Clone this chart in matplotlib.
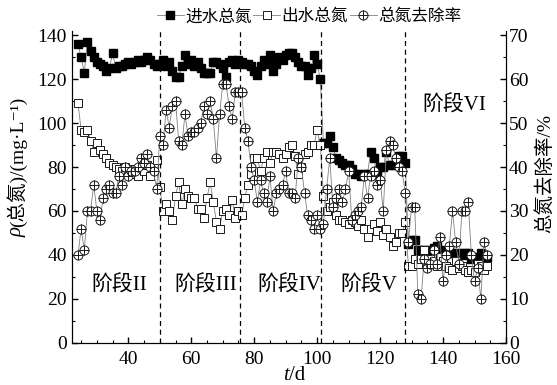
import numpy as np
import matplotlib
matplotlib.use("Agg")
import matplotlib.pyplot as plt
from matplotlib.legend_handler import HandlerTuple

plt.rcParams["font.family"] = ["Liberation Serif", "Noto Sans CJK SC", "DejaVu Sans"]

days = np.arange(24, 155)

# 进水总氮 (mg/L), phases II..VI
influent = [
    136, 130, 123, 137, 133, 130, 128, 127, 126, 124, 125, 132, 125, 126, 126, 127, 128, 127, 128, 129, 128, 129, 130, 129, 127, 126,
    127, 129, 126, 128, 124, 121, 121, 126, 131, 127, 129, 126, 128, 125, 123, 123, 123, 128, 128, 127, 125, 121, 128, 129, 127, 129,
    128, 127, 127, 126, 124, 122, 126, 129, 127, 131, 124, 127, 130, 129, 131, 132, 132, 130, 128, 126, 126, 122, 125, 131, 127, 120,
    91, 91, 94, 89, 84, 83, 82, 81, 81, 79, 77, 77, 76, 77, 77, 87, 84, 77, 80, 80, 87, 81, 81, 82, 85, 85, 82,
    45, 47, 47, 42, 42, 42, 41, 42, 43, 44, 42, 38, 41, 42, 41, 40, 41, 40, 41, 41, 38, 39, 38, 41, 40, 39,
]

# 出水总氮 (mg/L)
effluent = [
    109, 97, 96, 97, 92, 87, 91, 88, 86, 84, 82, 81, 80, 79, 78, 80, 79, 77, 79, 76, 80, 78, 81, 76, 80, 83,
    71, 60, 63, 60, 56, 67, 73, 63, 70, 67, 66, 66, 61, 61, 57, 66, 73, 64, 55, 52, 60, 61, 58, 65, 57, 60,
    58, 66, 72, 77, 84, 84, 78, 84, 87, 82, 87, 87, 86, 84, 86, 89, 90, 85, 77, 80, 86, 87, 90, 90, 97, 90,
    67, 60, 62, 64, 58, 56, 56, 55, 54, 56, 55, 53, 56, 52, 48, 52, 54, 51, 55, 49, 52, 48, 44, 46, 50, 50, 55,
    35, 35, 38, 36, 38, 42, 35, 38, 37, 35, 39, 37, 35, 34, 33, 37, 34, 35, 33, 32, 33, 32, 36, 35, 33, 35,
]

# 总氮去除率 (%)
removal = [
    20, 26, 21, 30, 30, 36, 30, 28, 33, 35, 36, 34, 34, 38, 36, 40, 38, 39, 39, 40, 42, 41, 43, 40, 39, 35,
    47, 45, 53, 49, 54, 55, 46, 45, 52, 47, 48, 48, 49, 50, 54, 52, 55, 51, 42, 52, 59, 59, 54, 51, 57, 57,
    57, 49, 46, 40, 37, 32, 37, 34, 32, 38, 30, 34, 35, 36, 39, 34, 34, 33, 42, 40, 34, 29, 28, 26, 29, 26,
    27, 35, 42, 31, 33, 35, 32, 35, 39, 28, 29, 30, 31, 38, 33, 38, 39, 36, 37, 30, 44, 46, 45, 42, 40, 39, 34,
    23, 31, 31, 11, 10, 19, 17, 18, 21, 18, 24, 14, 20, 22, 30, 23, 18, 30, 30, 32, 20, 14, 17, 10, 23, 20,
]

phase_bounds = [50, 75.5, 101.3, 127.8]
phase_names = ["阶段II", "阶段III", "阶段IV", "阶段V", "阶段VI"]
phase_label_pos = [(37, 26), (64.5, 26), (91, 26), (116.5, 26), (143.5, 108)]

fig = plt.figure(figsize=(5.57, 3.85), dpi=100)
ax = fig.add_axes([0.1287, 0.1099, 0.7797, 0.8096])
ax2 = ax.twinx()

line_kw = dict(color="0.5", lw=0.6)
l1, = ax.plot(days, influent, marker="s", ms=5.5, mfc="black", mec="black", label="进水总氮", **line_kw)
l2, = ax.plot(days, effluent, marker="s", ms=5.5, mfc="white", mec="0.1", mew=0.7, label="出水总氮", **line_kw)
l3, = ax2.plot(days, removal, marker="o", ms=6.5, mfc="white", mec="0.1", mew=0.7, **line_kw)
l3p, = ax2.plot(days, removal, ls="none", marker="+", ms=6.5, mec="0.1", mew=0.7)

for b in phase_bounds:
    ax.axvline(b, color="black", ls=(0, (4, 3)), lw=0.9)

for name, (x, y) in zip(phase_names, phase_label_pos):
    ax.text(x, y, name, fontsize=15, ha="center", va="center")

ax.set_xlim(22, 160)
ax.set_ylim(0, 142)
ax2.set_ylim(0, 71)
ax.set_xticks([40, 60, 80, 100, 120, 140, 160])
ax.set_xticks(np.arange(25, 161, 5), minor=True)
ax.set_yticks(np.arange(0, 141, 20))
ax.set_yticks(np.arange(0, 141, 10), minor=True)
ax2.set_yticks(np.arange(0, 71, 10))
ax2.set_yticks(np.arange(0, 71, 5), minor=True)

for a in (ax, ax2):
    a.spines["top"].set_visible(False)
    a.tick_params(direction="in", labelsize=14, width=1, length=4)
    a.tick_params(which="minor", direction="in", length=2.5, width=0.8)
ax.tick_params(axis="x", pad=6)
ax2.tick_params(axis="y", pad=2)

# y label: italic rho + rest
fig.text(0.03, 0.41, "ρ", style="italic", fontsize=15, rotation=90, ha="center", va="top")
fig.text(0.03, 0.41, "(总氮)/(mg·L⁻¹)", fontsize=14, rotation=90, ha="center", va="bottom")
# x label
fig.text(0.519, 0.0, "t", style="italic", fontsize=15, ha="right", va="bottom")
fig.text(0.519, 0.0, "/d", fontsize=15, ha="left", va="bottom")
# right label
fig.text(0.978, 0.55, "总氮去除率/%", fontsize=14, rotation=90, ha="center", va="center")

fig.legend(handles=[l1, l2, (l3, l3p)], labels=["进水总氮", "出水总氮", "总氮去除率"],
           handler_map={tuple: HandlerTuple(ndivide=1, pad=0)},
           loc="center", bbox_to_anchor=(0.555, 0.955), ncol=3,
           frameon=False, fontsize=12, handlelength=1.6, handletextpad=0.1,
           columnspacing=0.1, borderaxespad=0)

fig.savefig("out.png", dpi=100)
